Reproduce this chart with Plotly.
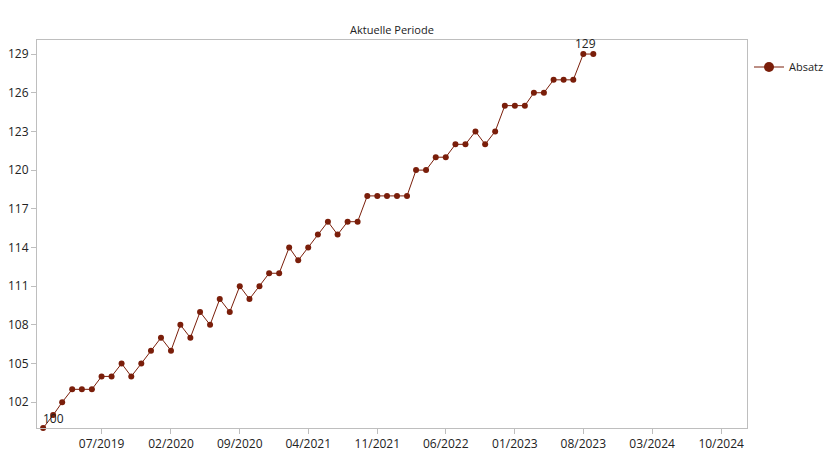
import plotly.graph_objects as go
import pandas as pd

months = pd.date_range("2019-01-01", "2023-09-01", freq="MS")
absatz = [100, 101, 102, 103, 103, 103,
          104, 104, 105, 104, 105, 106,
          107, 106, 108, 107, 109, 108,
          110, 109, 111, 110, 111, 112,
          112, 114, 113, 114, 115, 116,
          115, 116, 116, 118, 118, 118,
          118, 118, 120, 120, 121, 121,
          122, 122, 123, 122, 123, 125,
          125, 125, 126, 126, 127, 127,
          127, 129, 129]

series_color = "#7A1E0A"
text_color = "#222222"
axis_color = "#BEBEBE"
font_family = "Open Sans, Noto Sans, sans-serif"

i_first = 0
i_max = absatz.index(max(absatz))

W, H = 828, 461  # page body has 8px margin

fig = go.Figure()
fig.add_trace(go.Scatter(
    x=months, y=absatz, name="Absatz",
    mode="lines+markers",
    line=dict(color=series_color, width=1),
    marker=dict(color=series_color, size=6),
    cliponaxis=False, showlegend=False,
))
# legend entry (larger symbol as in the reference)
fig.add_trace(go.Scatter(
    x=[None], y=[None], name="Absatz",
    mode="lines+markers",
    line=dict(color=series_color, width=1),
    marker=dict(color=series_color, size=10),
    showlegend=True,
))

fig.add_annotation(x=months[i_first], y=absatz[i_first], text=str(absatz[i_first]),
                   showarrow=False, xanchor="left", yanchor="bottom", xshift=-2, yshift=-1,
                   font=dict(size=12, color=text_color, family=font_family))
fig.add_annotation(x=months[i_max], y=absatz[i_max], text=str(absatz[i_max]),
                   showarrow=False, xanchor="center", yanchor="bottom", xshift=2, yshift=0,
                   font=dict(size=12, color=text_color, family=font_family))

fig.update_layout(
    width=W, height=H,
    margin=dict(l=29, r=89, t=32, b=41),
    paper_bgcolor="white", plot_bgcolor="white",
    font=dict(family=font_family, size=12, color=text_color),
    title=dict(text="Aktuelle Periode", x=384 / W, xanchor="center",
               y=1 - 22 / H, yanchor="middle",
               font=dict(size=11, color=text_color, family=font_family)),
    showlegend=True,
    legend=dict(xref="container", yref="container",
                x=741 / W, y=1 - 59 / H, xanchor="left", yanchor="middle",
                font=dict(size=11, color=text_color, family=font_family),
                itemwidth=30, bgcolor="rgba(0,0,0,0)"),
    xaxis=dict(
        range=["2018-12-13", "2024-12-20"],
        tick0="2019-07-01", dtick="M7", tickformat="%m/%Y",
        showgrid=False, zeroline=False, automargin=False,
        showline=True, linecolor=axis_color, linewidth=1, mirror=True,
        ticks="outside", ticklen=5, tickcolor=axis_color,
        tickfont=dict(size=12, color=text_color),
    ),
    yaxis=dict(
        range=[100, 130.09],
        tick0=102, dtick=3,
        showgrid=False, zeroline=False, automargin=False,
        showline=True, linecolor=axis_color, linewidth=1, mirror=True,
        ticks="outside", ticklen=5, tickcolor=axis_color,
        tickfont=dict(size=12, color=text_color),
    ),
)

fig.write_html("out.html")
